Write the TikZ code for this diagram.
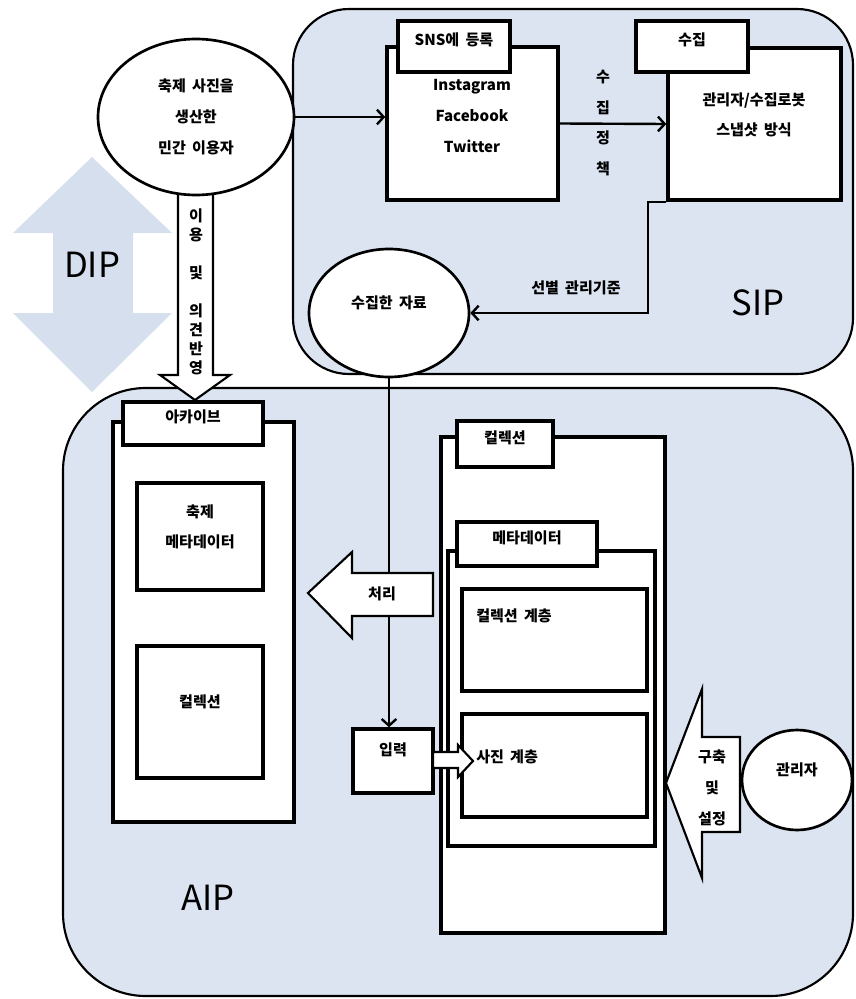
\documentclass[tikz,border=0pt]{standalone}
\usepackage{fontspec}
\setmainfont{Noto Sans CJK KR}[WordSpace=1.8]
\usetikzlibrary{arrows.meta,fit,shapes.geometric}
\definecolor{panelblue}{RGB}{219,228,240}
\definecolor{dipblue}{RGB}{214,223,237}
\tikzset{
  panel/.style={draw, line width=1.6pt, fill=panelblue, rounded corners=#1, inner sep=0pt},
  box/.style={draw, line width=2.6pt, fill=white, inner sep=0pt},
  txt/.style={font=\fontsize{11.3}{23}\selectfont\bfseries, align=center, inner sep=0pt},
  oval/.style={draw, ellipse, line width=2pt, fill=white, inner sep=0pt, txt},
  conn/.style={line width=1.8pt, -{Straight Barb[length=5pt,width=11pt]}},
  blockarrow/.style={draw, line width=1.6pt, fill=white, line join=miter},
  big/.style={font=\fontsize{26}{30}\selectfont, inner sep=0pt}
}
\begin{document}
\begin{tikzpicture}[x=0.75pt,y=-0.75pt]
\useasboundingbox (0,0) rectangle (856,999);
\fill[dipblue] (92,157) -- (172,233) -- (133,233) -- (133,313) -- (172,313) -- (92,392) -- (13,313) -- (53,313) -- (53,233) -- (13,233) -- cycle;
\node[big] (dip) at (92,265) {DIP};
\node[panel=42pt, fit={(293,9)(853,374)}] (sip) {};
\node[panel=62pt, fit={(63,388)(853,996)}] (aip) {};
\node[big] (siplabel) at (758,303) {SIP};
\node[big] (aiplabel) at (208,898) {AIP};

\draw[blockarrow] (178,190) -- (213,190) -- (213,375) -- (230,375) -- (195,400) -- (160,375) -- (178,375) -- cycle;
\node[txt, font=\fontsize{11.3}{14.25}\selectfont\bfseries] (usage) at (196,292) {이\\용\\[14.25pt]및\\[14.25pt]의\\견\\반\\영};
\node[oval, minimum width=147pt, minimum height=117pt] (user) at (196,117) {축제 사진을\\생산한\\민간 이용자};

\node[box, fit={(387,47)(558,200)}] (sns) {};
\node[box, txt, fit={(398,21)(510,72)}] (snstab) {SNS에 등록};
\node[txt] (snstext) at (472,116) {Instagram\\Facebook\\Twitter};
\node[box, fit={(668,48)(841,200)}] (collect) {};
\node[box, txt, fit={(636,21)(748,72)}] (collecttab) {수집};
\node[txt] (collecttext) at (754,115) {관리자/수집로봇\\스냅샷 방식};
\node[txt] (policy) at (603,123) {수\\집\\정\\책};
\draw[conn] (user.east) -- (user.east -| sns.west);
\draw[conn] (sns.east) -- (collect.west);

\node[oval, minimum width=120pt, minimum height=96pt] (data) at (389,313) {};
\node[txt] (datatext) at (389,303) {수집한 자료};
\draw[conn] (collect.south west) -- ++(-18,0) |- (data.east);
\node[txt] (criteria) at (576,288) {선별 관리기준};

\node[box, fit={(113,422)(294,822)}] (archive) {};
\node[box, txt, fit={(123,402)(263,445)}] (archivetab) {아카이브};
\node[box, fit={(137,483)(263,590)}] (festmeta) {};
\node[txt] (festmetatext) at (200,527) {축제\\메타데이터};
\node[box, fit={(137,646)(263,778)}] (archcol) {};
\node[txt] (archcoltext) at (200,702) {컬렉션};

\node[box, fit={(353,729)(433,793)}] (input) {};
\node[txt] (inputtext) at (393,750) {입력};
\draw[conn] (data.south) -- (data.south |- input.north);
\draw[blockarrow] (308,593) -- (352,552) -- (352,573) -- (433,573) -- (433,616) -- (352,616) -- (352,638) -- cycle;
\node[txt] (proc) at (382,594) {처리};

\node[box, fit={(441,437)(665,933)}] (collection) {};
\node[box, txt, fit={(457,421)(553,467)}] (collectiontab) {컬렉션};
\node[box, fit={(448,551)(655,846)}] (meta) {};
\node[box, txt, fit={(457,522)(597,566)}] (metatab) {메타데이터};
\node[box, fit={(462,589)(647,691)}] (collayer) {};
\node[txt, anchor=west] (collayertext) at (476,616) {컬렉션 계층};
\node[box, fit={(462,714)(647,817)}] (photolayer) {};
\node[txt, anchor=west] (photolayertext) at (476,757) {사진 계층};
\draw[blockarrow] (433,752) -- (458,752) -- (458,745) -- (473,761) -- (458,777) -- (458,768) -- (433,768) -- cycle;

\draw[blockarrow] (666,783) -- (702,689) -- (702,737) -- (740,737) -- (740,832) -- (702,832) -- (702,878) -- cycle;
\node[txt] (build) at (712,788) {구축\\및\\설정};
\node[oval, minimum width=82.5pt, minimum height=75pt] (manager) at (797,780) {};
\node[txt] (managertext) at (797,770) {관리자};
\end{tikzpicture}
\end{document}
